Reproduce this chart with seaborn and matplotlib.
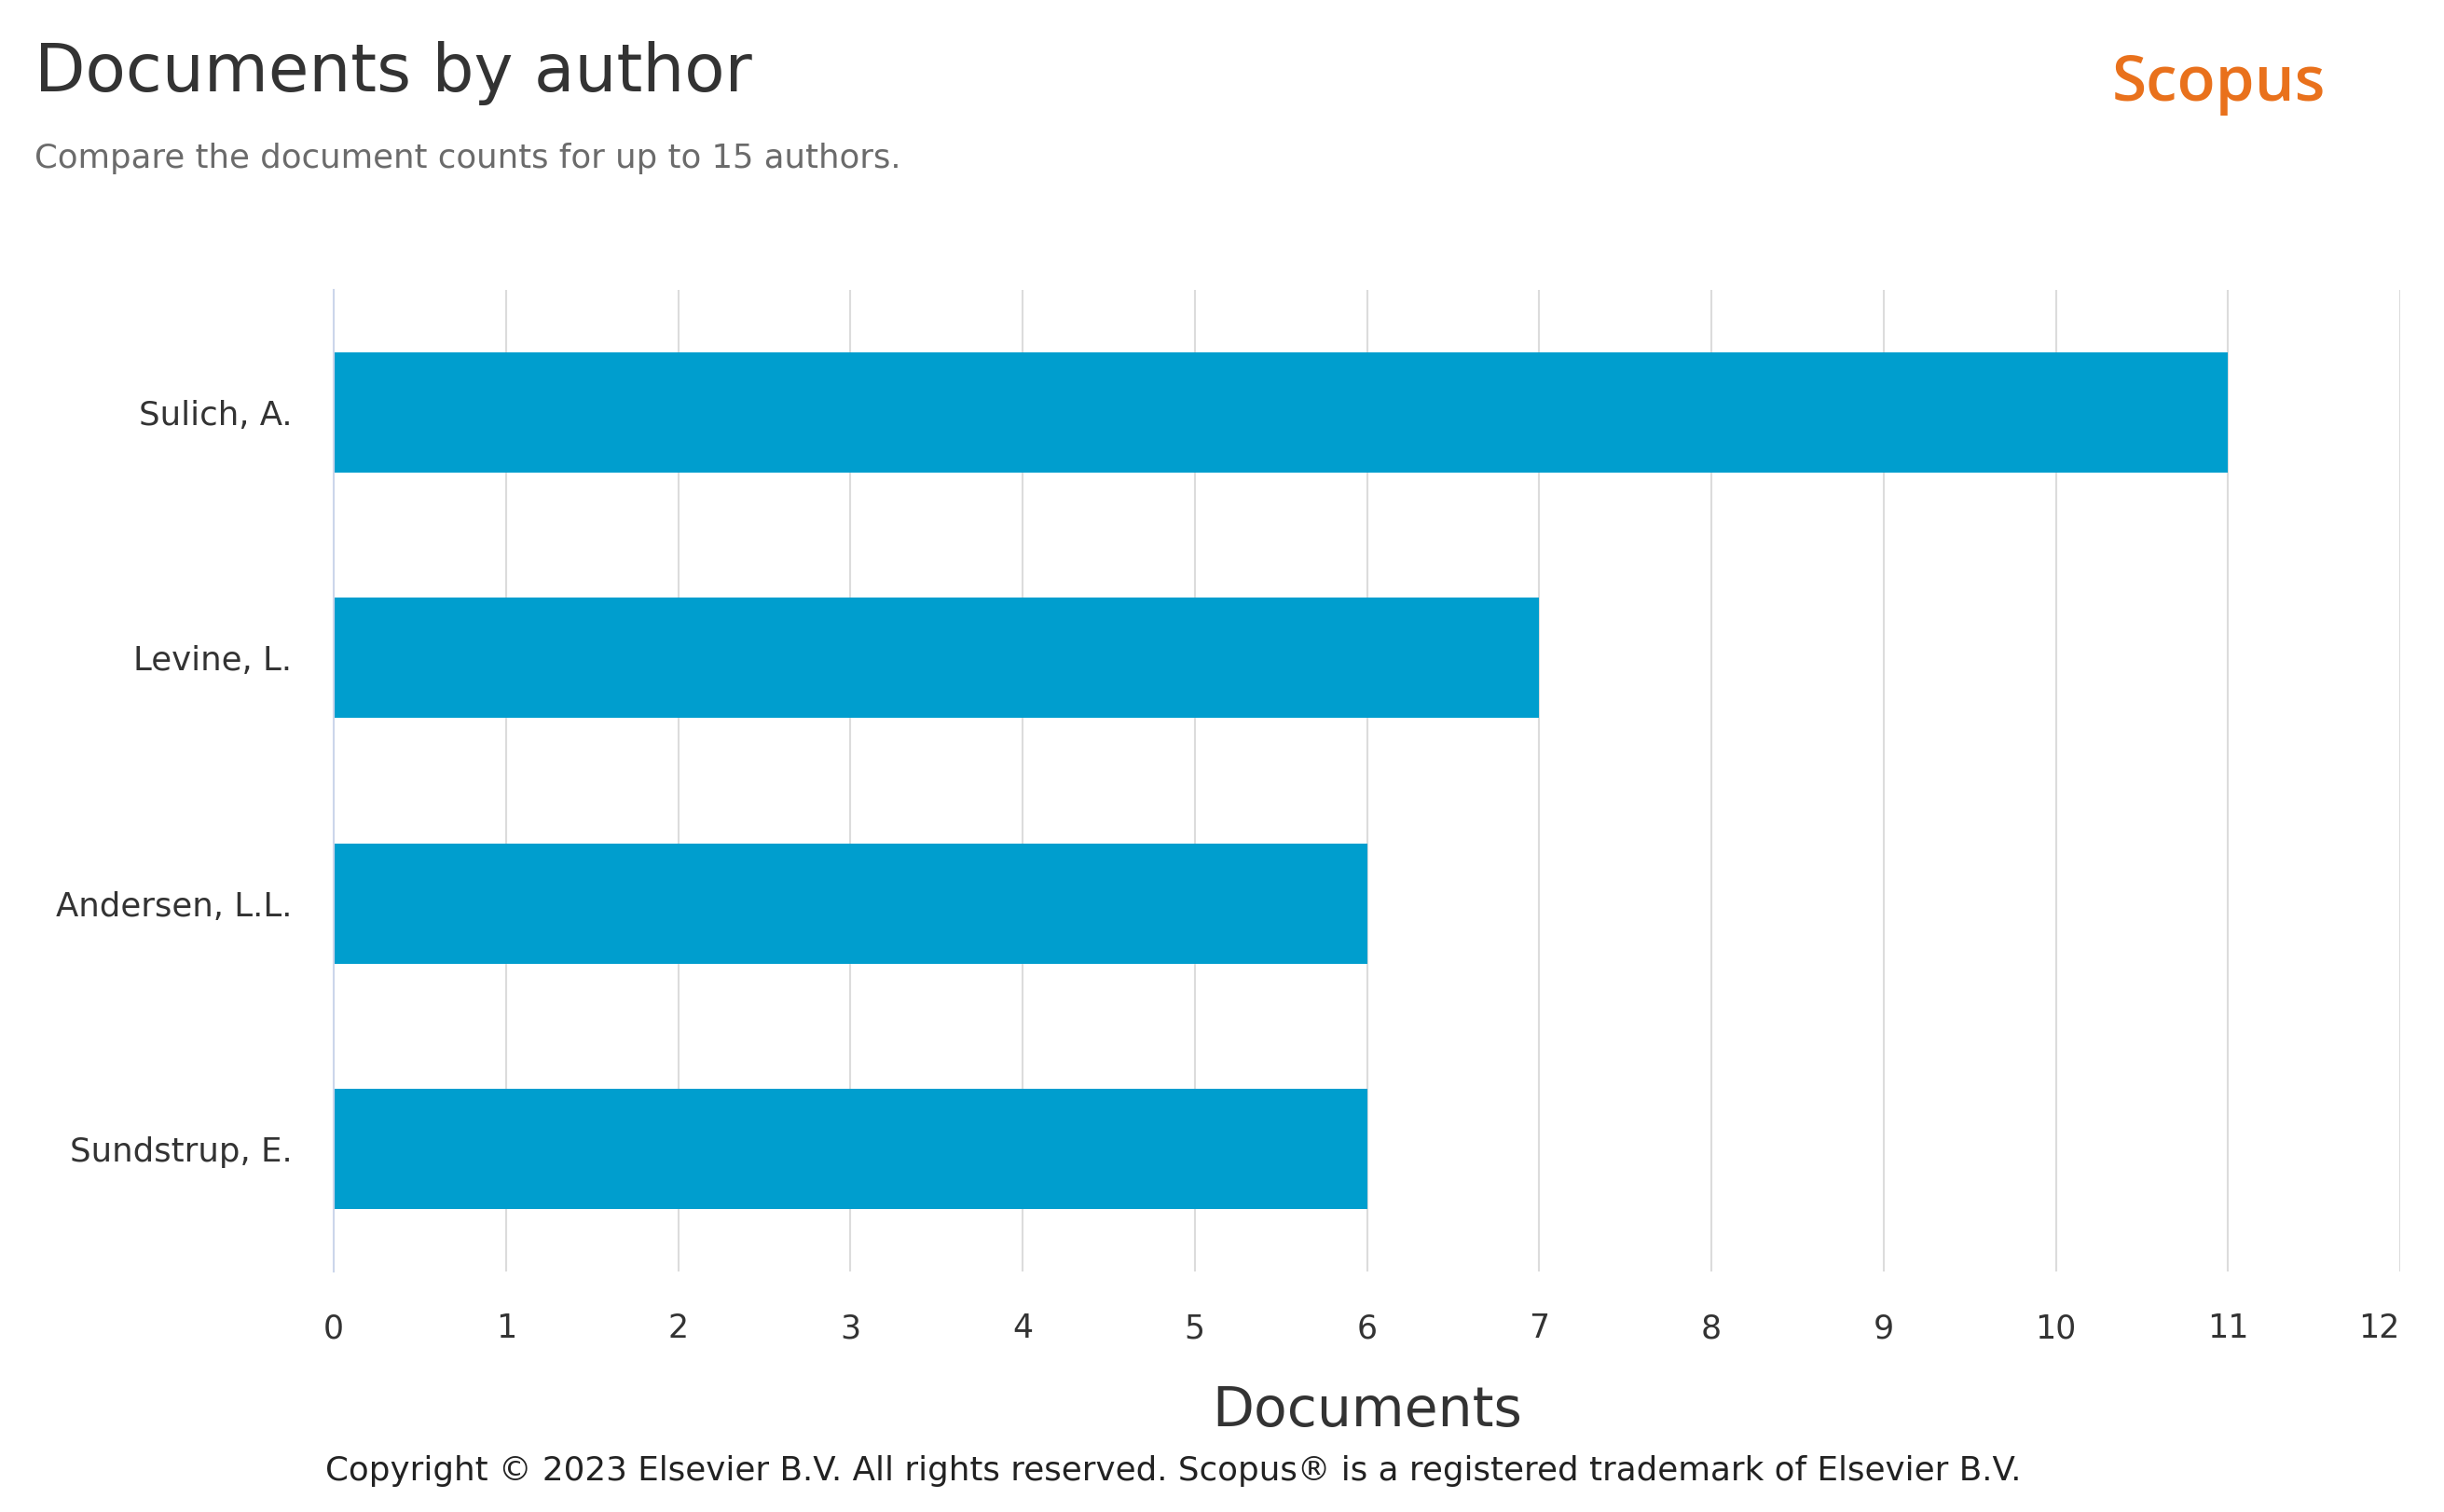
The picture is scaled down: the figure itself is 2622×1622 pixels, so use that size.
import matplotlib
matplotlib.use("Agg")
import matplotlib.pyplot as plt
import seaborn as sns
import pandas as pd

authors = ["Sulich, A.", "Levine, L.", "Andersen, L.L.", "Sundstrup, E."]
documents = [11, 7, 6, 6]
x_ticks = list(range(0, 13))

title = "Documents by author"
subtitle = "Compare the document counts for up to 15 authors."
x_label = "Documents"
brand = "Scopus"
copyright_text = ("Copyright \u00a9 2023 Elsevier B.V. All rights reserved. "
                  "Scopus\u00ae is a registered trademark of Elsevier B.V.")

df = pd.DataFrame({"author": authors, "documents": documents})

sns.set_theme(style="white")
plt.rcParams["font.family"] = ["DejaVu Sans"]

W, H = 2622, 1622
fig = plt.figure(figsize=(W / 100, H / 100), dpi=100)
ax = fig.add_axes([358 / W, 1 - 1364 / H, (2575 - 358) / W, (1364 - 311) / H])

sns.barplot(data=df, x="documents", y="author", orient="h", color="#009ECE",
            saturation=1, width=0.49, ax=ax, edgecolor="none", zorder=3)

ax.set_xlim(0, 12)
ax.set_ylim(3.5, -0.5)
ax.set_xticks(x_ticks)
ax.set_xticklabels([str(t) for t in x_ticks])
ax.grid(axis="x", color="#dcdcdc", linewidth=1.5, zorder=0)
ax.grid(axis="y", visible=False)
for s in ["top", "right", "bottom"]:
    ax.spines[s].set_visible(False)
ax.spines["left"].set_color("#ccd6eb")
ax.spines["left"].set_linewidth(1.5)
ax.spines["left"].set_zorder(4)

ax.tick_params(axis="x", length=0, pad=32, labelsize=25, labelcolor="#333333")
ax.tick_params(axis="y", length=0, pad=32, labelsize=25.6, labelcolor="#333333")
labels = ax.get_xticklabels()
labels[-1].set_ha("right")
labels[-1].set_x(12)

ax.set_ylabel("")
ax.set_xlabel(x_label, fontsize=42, color="#333333")
ax.xaxis.label.set_va("baseline")
ax.xaxis.set_label_coords(0.5, (1364 - 1530) / (1364 - 311))

fig.text(37 / W, 1 - 98 / H, title, fontsize=51, color="#333333", va="baseline", ha="left")
fig.text(37 / W, 1 - 180 / H, subtitle, fontsize=25.6, color="#6b6b6b", va="baseline", ha="left")
fig.text(2266 / W, 1 - 108 / H, brand, fontsize=48.5, color="#E9711C", va="baseline", ha="left",
         family=["Open Sans", "DejaVu Sans"], fontweight="semibold")
fig.text(1259 / W, 1 - 1588 / H, copyright_text, fontsize=25.7, color="#222222",
         va="baseline", ha="center")

fig.savefig("out.png", dpi=100, facecolor="white")
